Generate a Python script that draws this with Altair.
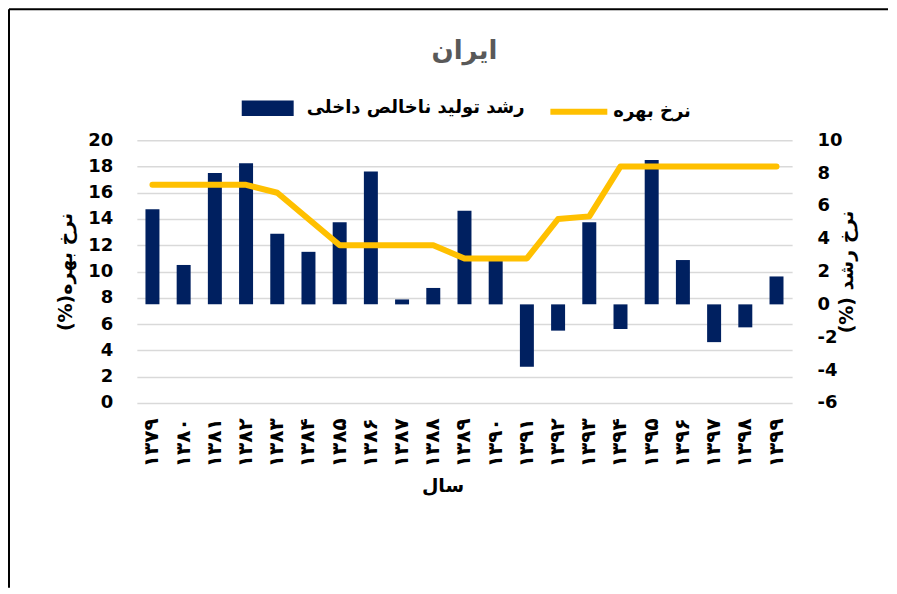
import altair as alt
import pandas as pd

# ---- data ----
years = ["۱۳۷۹", "۱۳۸۰", "۱۳۸۱", "۱۳۸۲", "۱۳۸۳", "۱۳۸۴", "۱۳۸۵", "۱۳۸۶", "۱۳۸۷",
         "۱۳۸۸", "۱۳۸۹", "۱۳۹۰", "۱۳۹۱", "۱۳۹۲", "۱۳۹۳", "۱۳۹۴", "۱۳۹۵", "۱۳۹۶",
         "۱۳۹۷", "۱۳۹۸", "۱۳۹۹"]
gdp_growth = [5.8, 2.4, 8.0, 8.6, 4.3, 3.2, 5.0, 8.1, 0.3, 1.0, 5.7,
              2.7, -3.8, -1.6, 5.0, -1.5, 8.8, 2.7, -2.3, -1.4, 1.7]
interest_rate = [16.6, 16.6, 16.6, 16.6, 16.0, 14.0, 12.0, 12.0, 12.0, 12.0, 11.0,
                 11.0, 11.0, 14.0, 14.2, 18.0, 18.0, 18.0, 18.0, 18.0, 18.0]
left_ticks = [0, 2, 4, 6, 8, 10, 12, 14, 16, 18, 20]
right_ticks = [-6, -4, -2, 0, 2, 4, 6, 8, 10]

RLM = "\u200f"
title_text = "ایران"
gdp_label = "رشد تولید ناخالص داخلی"
rate_label = "نرخ بهره"
left_title = "نرخ بهره(%)" + RLM
right_title = "نرخ رشد (%)" + RLM
x_title = "سال"

NAVY = "#002060"
YELLOW = "#FFC000"
FONT = "DejaVu Sans"

df = pd.DataFrame({
    "year": years,
    "gdp": gdp_growth,
    "rate": interest_rate,
    "s_gdp": [gdp_label] * len(years),
    "s_rate": [rate_label] * len(years),
})

x_enc = alt.X(
    "year:N", sort=years,
    scale=alt.Scale(paddingInner=0, paddingOuter=0),
    axis=alt.Axis(
        title=x_title, labelAngle=270, labelFont=FONT, labelFontSize=20,
        labelFontWeight="bold", labelColor="black", labelPadding=15,
        titleFont=FONT, titleFontSize=19, titleFontWeight="bold", titleColor="black",
        titlePadding=10, titleX=306, domain=False, ticks=False, grid=False,
    ),
)

bars = alt.Chart(df).mark_bar(size=14, color=NAVY).encode(
    x=x_enc,
    y=alt.Y(
        "gdp:Q",
        scale=alt.Scale(domain=[-6, 10], nice=False, zero=False),
        axis=alt.Axis(
            orient="right", values=right_ticks, grid=False, domain=False, ticks=False,
            labelExpr="'' + datum.value",
            title=right_title, titleAngle=270, titleFont=FONT, titleFontSize=19,
            titleFontWeight="bold", titleColor="black", titlePadding=14,
            labelFont=FONT, labelFontSize=18, labelFontWeight="bold",
            labelColor="black", labelPadding=25,
        ),
    ),
    color=alt.Color(
        "s_gdp:N",
        scale=alt.Scale(domain=[gdp_label], range=[NAVY]),
        legend=alt.Legend(
            orient="none", legendX=105, legendY=-58, title=None, padding=0,
            symbolType="M-1,-0.3H1V0.3H-1Z", symbolSize=2704, symbolStrokeWidth=0,
            labelFont=FONT, labelFontSize=18, labelFontWeight="bold",
            labelColor="black", labelOffset=13, labelLimit=400,
        ),
    ),
)

line = alt.Chart(df).mark_line(strokeWidth=6, strokeCap="round", strokeJoin="round").encode(
    x=x_enc,
    y=alt.Y(
        "rate:Q",
        scale=alt.Scale(domain=[0, 20], nice=False),
        axis=alt.Axis(
            orient="left", values=left_ticks, grid=True, gridColor="#d9d9d9",
            gridWidth=1.5, domain=False, ticks=False,
            title=left_title, titleFont=FONT, titleFontSize=19,
            titleFontWeight="bold", titleColor="black", titlePadding=12,
            labelFont=FONT, labelFontSize=18, labelFontWeight="bold",
            labelColor="black", labelPadding=24,
        ),
    ),
    stroke=alt.Stroke(
        "s_rate:N",
        scale=alt.Scale(domain=[rate_label], range=[YELLOW]),
        legend=alt.Legend(
            orient="none", legendX=411, legendY=-60, title=None, padding=0,
            symbolType="stroke", symbolSize=3249, symbolStrokeWidth=6,
            labelFont=FONT, labelFontSize=18, labelFontWeight="bold",
            labelColor="black", labelOffset=3, labelLimit=400,
        ),
    ),
)

frame_src = pd.DataFrame({"k": [0]})
border_top = alt.Chart(frame_src).mark_rule(color="black", strokeWidth=2).encode(
    x=alt.value(-128), x2=alt.value(752), y=alt.value(-131)
)
border_left = alt.Chart(frame_src).mark_rule(color="black", strokeWidth=2).encode(
    x=alt.value(-128), y=alt.value(-131), y2=alt.value(448)
)

chart = alt.layer(bars, line, border_top, border_left).resolve_scale(
    y="independent"
).properties(
    width=656, height=263,
    title=alt.TitleParams(
        title_text, font=FONT, fontSize=26, fontWeight="bold", color="#595959",
        anchor="middle", offset=-56,
    ),
).configure(
    padding=0, background="white",
).configure_view(stroke=None)

chart.save("out.html", embed_options={"renderer": "svg", "actions": False})
